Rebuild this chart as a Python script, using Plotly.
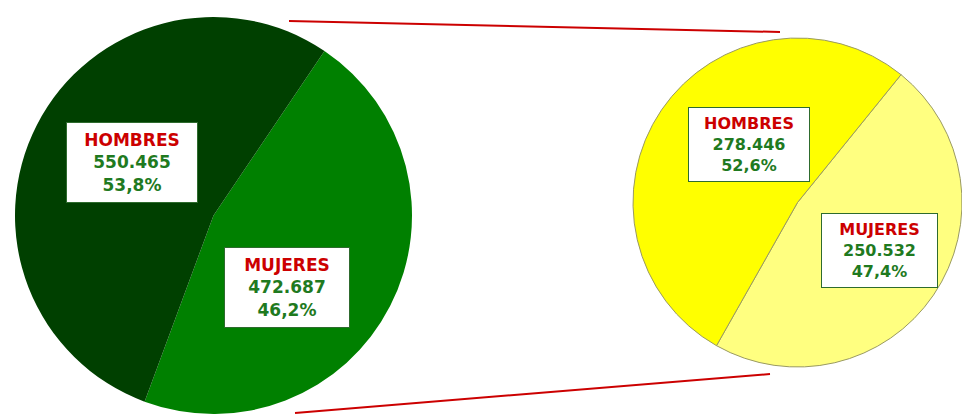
import plotly.graph_objects as go

# Population by sex: total (left pie) and the highlighted subgroup (right pie)
categories = ["MUJERES", "HOMBRES"]
total_values = [472687, 550465]
subgroup_values = [250532, 278446]

total_colors = ["#008000", "#004000"]
subgroup_colors = ["#FFFF80", "#FFFF00"]

W, H = 962, 414
RED = "#CC0000"
GREEN = "#1F7A1F"


def fmt_int(v):
    return f"{v:,}".replace(",", ".")


def fmt_pct(v, total):
    return f"{100 * v / total:.1f}%".replace(".", ",")


def label_html(name, value, total):
    return (f"<b><span style='color:{RED}'>{name}</span><br>"
            f"<span style='color:{GREEN}'>{fmt_int(value)}</span><br>"
            f"<span style='color:{GREEN}'>{fmt_pct(value, total)}</span></b>")


fig = go.Figure()

fig.add_trace(go.Pie(
    labels=categories, values=total_values, sort=False,
    direction="clockwise", rotation=34,
    marker=dict(colors=total_colors, line=dict(width=0)),
    textinfo="none", hoverinfo="skip", showlegend=False,
    domain=dict(x=[15 / W, 412 / W], y=[0, 397 / H]),
))

fig.add_trace(go.Pie(
    labels=categories, values=subgroup_values, sort=False,
    direction="clockwise", rotation=39,
    marker=dict(colors=subgroup_colors, line=dict(color="#9A9A62", width=1)),
    textinfo="none", hoverinfo="skip", showlegend=False,
    domain=dict(x=[633 / W, 1], y=[47 / H, 376 / H]),
))


def add_box(cx, cy, bw, bh, name, value, total, size):
    fig.add_annotation(
        x=cx / W, y=1 - cy / H, xref="paper", yref="paper",
        xanchor="center", yanchor="middle", showarrow=False,
        text=label_html(name, value, total),
        font=dict(family="Verdana, DejaVu Sans", size=size),
        bgcolor="white", bordercolor="#2E6B2E", borderwidth=1, borderpad=0,
        width=bw - 2, height=bh - 2, align="center",
    )


t_total = sum(total_values)
t_sub = sum(subgroup_values)
add_box(132, 162.5, 132, 81, categories[1], total_values[1], t_total, 17)
add_box(287, 287.5, 126, 81, categories[0], total_values[0], t_total, 17)
add_box(749, 144.5, 122, 75, categories[1], subgroup_values[1], t_sub, 16)
add_box(879.5, 250.5, 117, 75, categories[0], subgroup_values[0], t_sub, 16)

# Connector lines from the total pie to the subgroup pie
for (x0, y0, x1, y1) in [(289, 21, 780, 32), (295, 413, 770, 374)]:
    fig.add_shape(type="line", xref="paper", yref="paper",
                  x0=x0 / W, y0=1 - y0 / H, x1=x1 / W, y1=1 - y1 / H,
                  line=dict(color=RED, width=2))

fig.update_layout(
    width=W, height=H, margin=dict(l=0, r=0, t=0, b=0),
    paper_bgcolor="white", plot_bgcolor="white",
)

fig.write_html("out.html", config={"displayModeBar": False})
